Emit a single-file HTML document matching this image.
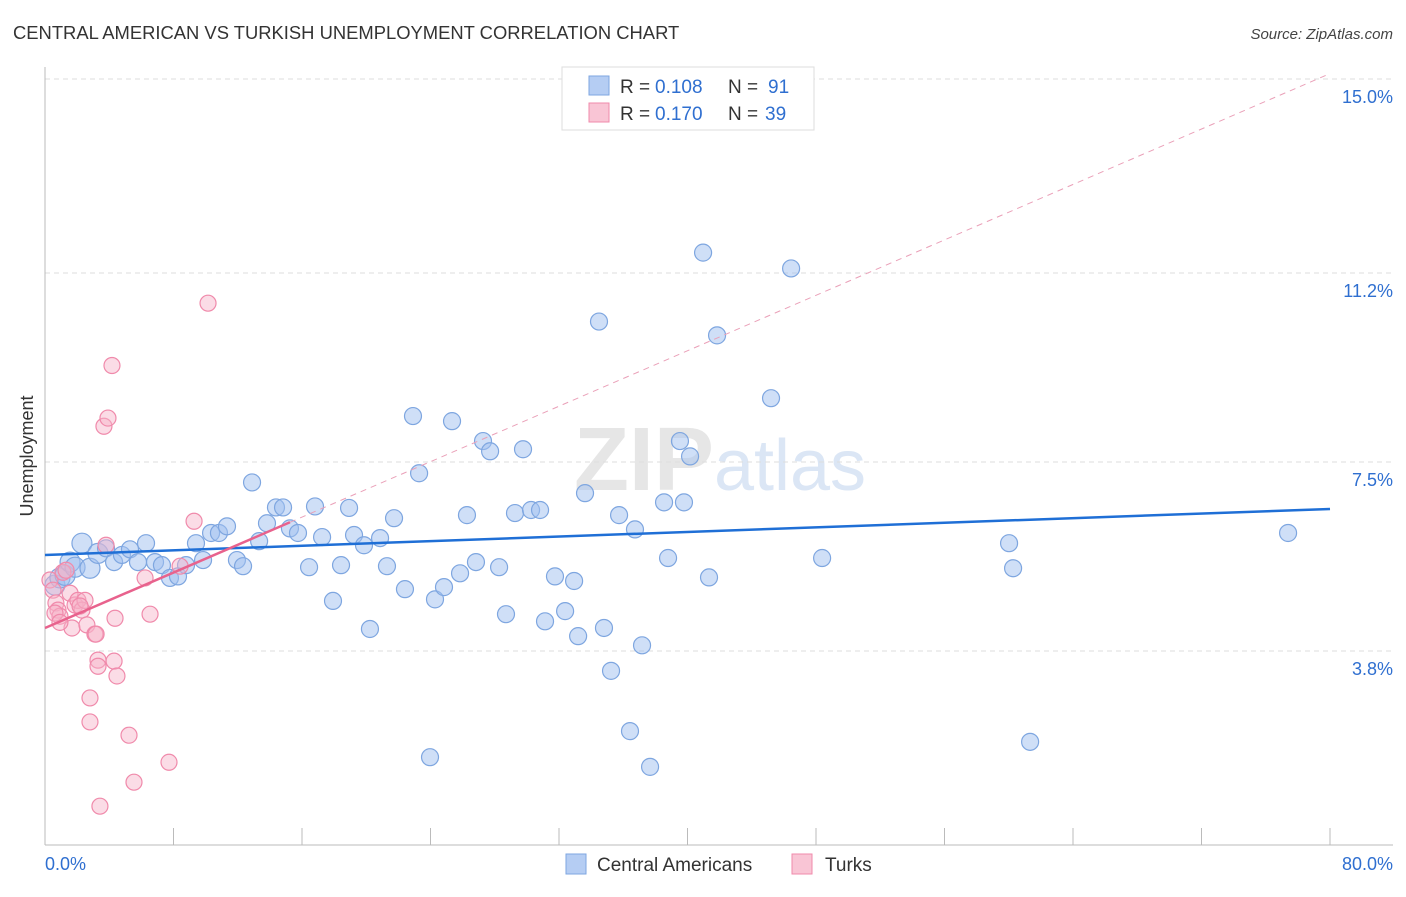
<!DOCTYPE html>
<html><head><meta charset="utf-8"><style>
body{margin:0;background:#fff;font-family:"Liberation Sans",sans-serif;}
svg text{font-family:"Liberation Sans",sans-serif;}
</style></head><body>
<svg id="chart" width="1406" height="892" xmlns="http://www.w3.org/2000/svg">
<text x="13" y="39" font-size="18.4" fill="#333">CENTRAL AMERICAN VS TURKISH UNEMPLOYMENT CORRELATION CHART</text>
<text x="1393" y="39" font-size="15" fill="#444" text-anchor="end" font-style="italic">Source: ZipAtlas.com</text>
<text x="720" y="490" font-size="90" fill="#e6e6e6" text-anchor="middle" font-family="Liberation Serif"><tspan font-weight="bold">ZIP</tspan><tspan fill="#dbe6f5" font-family="Liberation Sans" font-size="72">atlas</tspan></text>
<g id="grid"></g>
<g id="axes"></g>
<g id="pts"></g>
<g id="lines"></g>
<text transform="translate(33,456) rotate(-90)" font-size="18" fill="#333" text-anchor="middle">Unemployment</text>
<g>
<rect x="562" y="67" width="252" height="63" fill="#fff" stroke="#ddd"/>
<rect x="589" y="76" width="20" height="19" fill="#b5cdf3" stroke="#7ea6e0"/>
<text x="620" y="93" font-size="19" fill="#333">R =</text>
<text x="655" y="93" font-size="19" fill="#2f6fd0">0.108</text>
<text x="728" y="93" font-size="19" fill="#333">N =</text>
<text x="768" y="93" font-size="19" fill="#2f6fd0">91</text>
<rect x="589" y="103" width="20" height="19" fill="#f9c5d5" stroke="#f08aab"/>
<text x="620" y="120" font-size="19" fill="#333">R =</text>
<text x="655" y="120" font-size="19" fill="#2f6fd0">0.170</text>
<text x="728" y="120" font-size="19" fill="#333">N =</text>
<text x="765" y="120" font-size="19" fill="#2f6fd0">39</text>
</g>
<g>
<rect x="566" y="854" width="20" height="20" fill="#b5cdf3" stroke="#7ea6e0"/>
<text x="597" y="871" font-size="19" fill="#333">Central Americans</text>
<rect x="792" y="854" width="20" height="20" fill="#f9c5d5" stroke="#f08aab"/>
<text x="825" y="871" font-size="19" fill="#333">Turks</text>
</g>
</svg>
<script>
const blueX=[0.62,0.93,1.25,1.56,1.87,2.30,2.80,3.30,3.80,4.30,4.79,5.29,5.79,6.29,6.85,7.28,7.78,8.28,8.78,9.40,9.84,10.34,10.83,11.33,11.95,12.33,12.89,13.33,13.82,14.38,14.82,15.25,15.75,16.44,16.81,17.25,17.93,18.43,18.93,19.24,19.86,20.23,20.86,21.29,21.73,22.41,22.91,23.29,24.28,24.84,25.34,25.84,26.27,26.83,27.27,27.71,28.27,28.70,29.26,29.76,30.26,30.82,31.13,31.75,32.38,32.94,33.19,33.62,34.49,34.80,35.24,35.74,36.42,36.73,37.17,37.67,38.54,38.79,39.53,39.78,40.16,40.97,41.34,41.84,45.20,46.45,48.38,60.02,60.27,61.33,77.39,23.97];
const blueY=[5.09,5.23,5.28,5.54,5.44,5.91,5.42,5.71,5.81,5.54,5.68,5.79,5.54,5.91,5.54,5.48,5.23,5.26,5.48,5.91,5.58,6.11,6.11,6.24,5.58,5.46,7.10,5.95,6.30,6.61,6.61,6.20,6.11,5.44,6.63,6.03,4.78,5.48,6.60,6.07,5.87,4.23,6.01,5.46,6.40,5.01,8.40,7.28,4.81,5.05,8.30,5.32,6.46,5.54,7.91,7.71,5.44,4.52,6.50,7.75,6.56,6.56,4.38,5.26,4.58,5.17,4.09,6.89,10.25,4.25,3.41,6.46,2.23,6.18,3.91,1.53,6.71,5.62,7.91,6.71,7.61,11.60,5.24,9.98,8.75,11.29,5.62,5.91,5.42,2.02,6.11,1.72];
const pinkX=[0.31,0.50,0.68,0.81,0.93,1.12,1.31,1.56,1.68,1.87,2.05,2.30,2.49,2.61,2.80,2.80,3.11,3.30,3.30,3.67,3.80,3.92,4.17,4.30,4.36,4.48,5.23,5.54,3.42,6.23,6.54,7.72,8.41,9.28,10.15,0.62,0.93,2.18,3.18];
const pinkY=[5.19,4.99,4.74,4.60,4.48,5.34,5.38,4.93,4.25,4.70,4.79,4.60,4.79,4.31,2.88,2.41,4.13,3.62,3.50,8.20,5.87,8.36,9.39,3.60,4.44,3.31,2.15,1.23,0.76,5.23,4.52,1.62,5.46,6.34,10.61,4.54,4.36,4.68,4.13];
const blueFit=[5.68,6.58];
const pinkFit=[4.25,0.1357];
const pinkSolidEnd=15.25;
const yTicks=[3.8,7.5,11.2,15.0];
const yTickLabels=["3.8%","7.5%","11.2%","15.0%"];
const xTicks=[0,8,16,24,32,40,48,56,64,72,80];

const NS="http://www.w3.org/2000/svg";
const X=v=>45+v/80*1285;
const Y=v=>845-v/15*766;
function mk(t,a,p){const e=document.createElementNS(NS,t);for(const k in a)e.setAttribute(k,a[k]);p.appendChild(e);return e;}
const grid=document.getElementById('grid'),axes=document.getElementById('axes'),pts=document.getElementById('pts'),lines=document.getElementById('lines');
yTicks.forEach((v,i)=>{
 const g=mk('line',{x1:45,x2:1393,y1:Y(v),y2:Y(v),stroke:'#ddd','stroke-dasharray':'5,4'},grid);
 
 
 const t=mk('text',{x:1393,y:Y(v)+24,'font-size':18,fill:'#2f6fd0','text-anchor':'end'},axes);
 t.textContent=yTickLabels[i];
 
 
});
let a=mk('line',{x1:45,x2:45,y1:67,y2:845,stroke:'#bbb'},axes);


a=mk('line',{x1:45,x2:1393,y1:845,y2:845,stroke:'#bbb'},axes);


xTicks.forEach(v=>{
 const t=mk('line',{x1:X(v),x2:X(v),y1:828,y2:845,stroke:'#bbb'},axes);
 
 
});
let xl=mk('text',{x:45,y:870,'font-size':18,fill:'#2f6fd0'},axes);xl.textContent='0.0%';


xl=mk('text',{x:1393,y:870,'font-size':18,fill:'#2f6fd0','text-anchor':'end'},axes);xl.textContent='80.0%';


blueX.forEach((x,i)=>{
 const c=mk('circle',{cx:X(x),cy:Y(blueY[i]),r:i<8?10:8.5,fill:'rgba(160,192,240,0.5)',stroke:'#7ea6e0','stroke-width':1.2},pts);
 
 
});
pinkX.forEach((x,i)=>{
 const c=mk('circle',{cx:X(x),cy:Y(pinkY[i]),r:8,fill:'rgba(247,178,200,0.45)',stroke:'#f08aab','stroke-width':1.2},pts);
 
 
});
let l=mk('line',{x1:X(0),y1:Y(blueFit[0]),x2:X(80),y2:Y(blueFit[1]),stroke:'#1f6fd6','stroke-width':2.5},lines);


l=mk('line',{x1:X(0),y1:Y(pinkFit[0]),x2:X(pinkSolidEnd),y2:Y(pinkFit[0]+pinkFit[1]*pinkSolidEnd),stroke:'#e8628d','stroke-width':2.5},lines);


l=mk('line',{x1:X(pinkSolidEnd),y1:Y(pinkFit[0]+pinkFit[1]*pinkSolidEnd),x2:X(80),y2:Y(pinkFit[0]+pinkFit[1]*80),stroke:'#eaa0b8','stroke-width':1,'stroke-dasharray':'6,5'},lines);


</script>
</body></html>
